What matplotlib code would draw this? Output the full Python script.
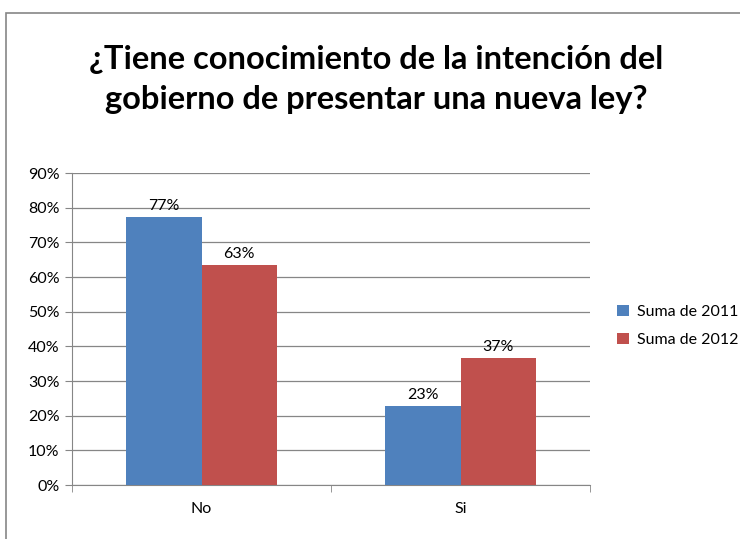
import matplotlib

matplotlib.use("Agg")
import matplotlib.pyplot as plt
import numpy as np
from matplotlib.patches import Rectangle
from matplotlib.ticker import FuncFormatter

categories = ["No", "Si"]
series_names = ["Suma de 2011", "Suma de 2012"]
values_2011 = [0.772, 0.228]
values_2012 = [0.634, 0.366]
yticks = [0.0, 0.1, 0.2, 0.3, 0.4, 0.5, 0.6, 0.7, 0.8, 0.9]
title = "¿Tiene conocimiento de la intención del\ngobierno de presentar una nueva ley?"

colors = ["#4F81BD", "#C0504D"]
plt.rcParams["font.family"] = ["Lato", "DejaVu Sans"]

fig = plt.figure(figsize=(7.40, 5.39), dpi=100)
ax = fig.add_axes([0.0973, 0.100, 0.700, 0.579])

x = np.arange(len(categories))
width = 0.29
for offset, vals, color, name in [(-width / 2, values_2011, colors[0], series_names[0]),
                                  (width / 2, values_2012, colors[1], series_names[1])]:
    bars = ax.bar(x + offset, vals, width, color=color, label=name, zorder=3)
    for bar, v in zip(bars, vals):
        ax.text(bar.get_x() + bar.get_width() / 2, v + 0.012, f"{v:.0%}",
                ha="center", va="bottom", fontsize=11.5, color="black", zorder=4)

ax.set_xlim(-0.5, 1.5)
ax.set_ylim(0, 0.9)
ax.set_yticks(yticks)
ax.yaxis.set_major_formatter(FuncFormatter(lambda v, _: f"{v:.0%}"))
ax.set_xticks(x)
ax.set_xticklabels(categories)
ax.set_xticks([-0.5, 0.5, 1.5], minor=True)
ax.tick_params(axis="x", which="major", length=0, pad=12, labelsize=11.5)
ax.tick_params(axis="x", which="minor", length=5, color="#868686")
ax.tick_params(axis="y", length=5, color="#868686", labelsize=11.5, pad=4)
ax.grid(axis="y", color="#868686", linewidth=0.9, zorder=0)
for side in ["top", "right"]:
    ax.spines[side].set_visible(False)
for side in ["left", "bottom"]:
    ax.spines[side].set_color("#868686")

fig.text(0.508, 0.852, title, ha="center", va="center", fontsize=23.5,
         fontweight="bold", linespacing=1.45)

fig.legend(loc="center left", bbox_to_anchor=(0.815, 0.395), frameon=False,
           fontsize=11.5, handlelength=0.7, handleheight=0.7, handletextpad=0.5,
           labelspacing=0.9)

# chart frame: only the left and top edges fall inside the image
fig.patches.append(Rectangle((0.008, -0.05), 1.1, 1.026, transform=fig.transFigure,
                             fill=False, edgecolor="#868686", linewidth=1.2))

fig.savefig("out.png", dpi=100)
